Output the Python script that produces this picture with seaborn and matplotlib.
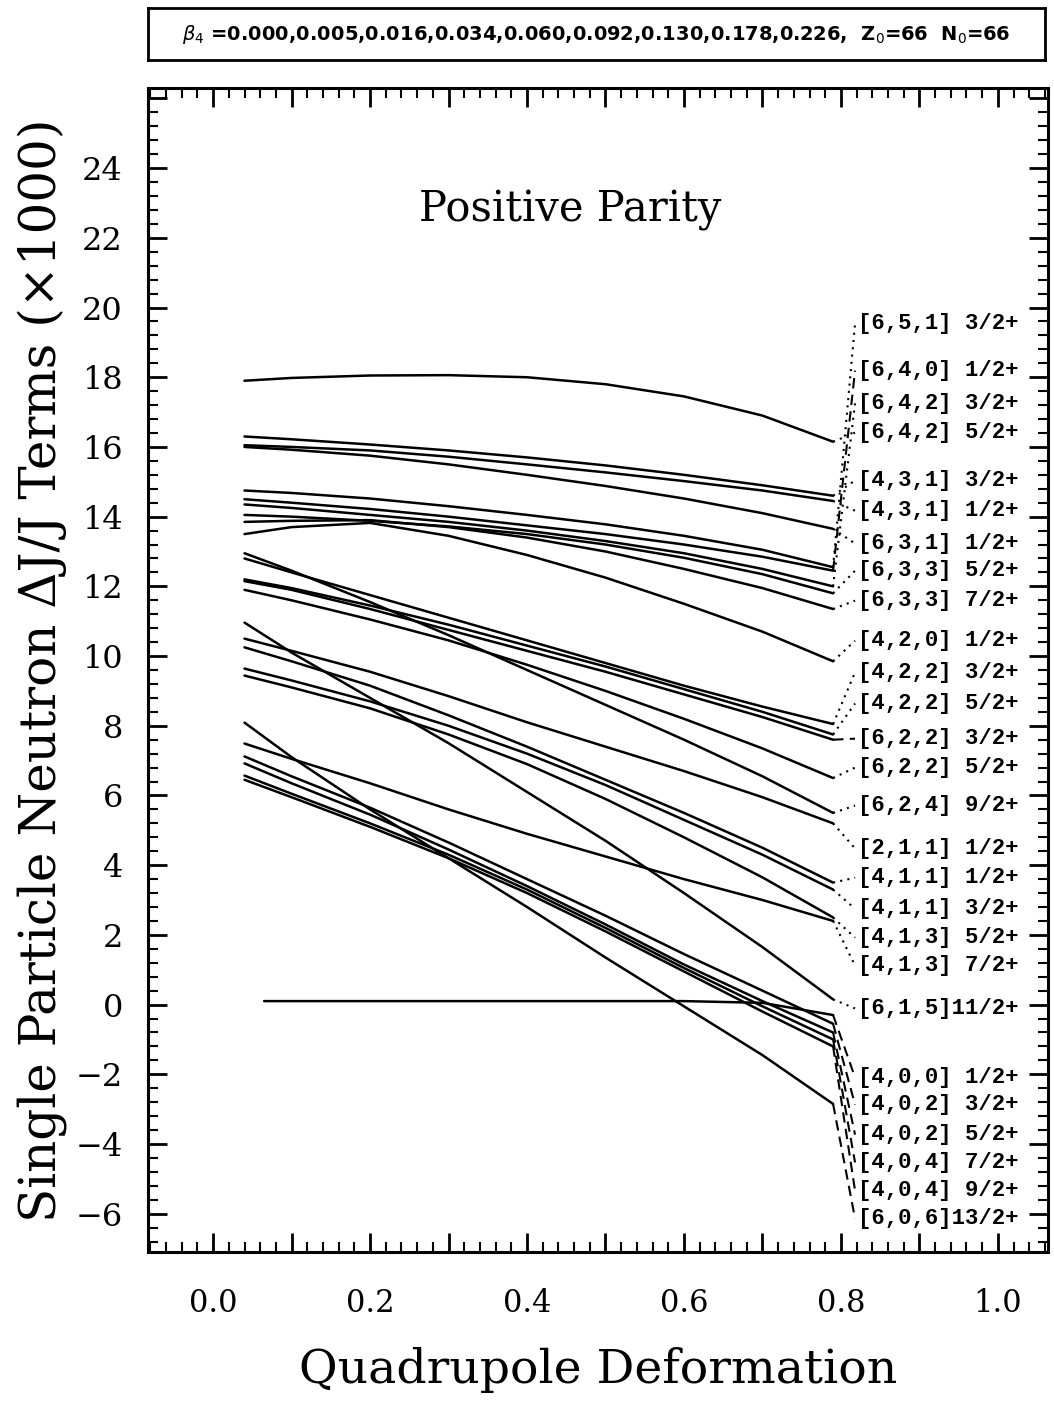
import pandas as pd
import matplotlib
matplotlib.use('Agg')
import matplotlib.pyplot as plt
from matplotlib.ticker import MultipleLocator, FuncFormatter
import seaborn as sns

x_grid = [0.04, 0.1, 0.2, 0.3, 0.4, 0.5, 0.6, 0.7, 0.79]
start_x = [0.04] * 21 + [0.065] + [0.04] * 5

# dJ/J (x1000) of each level at x_grid, in label order (top to bottom)
dj_values = [
    [14.75, 14.68, 14.52, 14.3, 14.05, 13.78, 13.45, 13.05, 12.55],
    [14.5, 14.4, 14.22, 14.0, 13.75, 13.5, 13.2, 12.85, 12.45],
    [14.35, 14.25, 14.05, 13.85, 13.6, 13.3, 12.95, 12.5, 12.0],
    [17.9, 17.98, 18.05, 18.06, 18.0, 17.8, 17.45, 16.9, 16.15],
    [16.3, 16.22, 16.07, 15.9, 15.7, 15.47, 15.2, 14.9, 14.6],
    [16.05, 16.0, 15.9, 15.72, 15.5, 15.27, 15.02, 14.75, 14.45],
    [16.0, 15.92, 15.75, 15.5, 15.2, 14.88, 14.52, 14.1, 13.65],
    [14.05, 14.0, 13.88, 13.72, 13.5, 13.2, 12.82, 12.35, 11.8],
    [13.85, 13.88, 13.9, 13.7, 13.4, 13.0, 12.5, 11.95, 11.35],
    [13.5, 13.7, 13.82, 13.45, 12.9, 12.25, 11.5, 10.7, 9.85],
    [12.8, 12.4, 11.75, 11.1, 10.45, 9.8, 9.15, 8.55, 8.05],
    [12.2, 11.95, 11.45, 10.9, 10.3, 9.7, 9.05, 8.4, 7.75],
    [12.15, 11.9, 11.35, 10.75, 10.15, 9.55, 8.9, 8.25, 7.6],
    [11.9, 11.6, 11.05, 10.45, 9.75, 9.0, 8.2, 7.35, 6.5],
    [12.95, 12.45, 11.55, 10.6, 9.6, 8.6, 7.6, 6.55, 5.5],
    [10.5, 10.15, 9.55, 8.85, 8.1, 7.4, 6.7, 5.95, 5.2],
    [10.25, 9.85, 9.15, 8.3, 7.4, 6.45, 5.5, 4.5, 3.5],
    [9.64, 9.3, 8.7, 8.0, 7.2, 6.3, 5.3, 4.3, 3.3],
    [9.44, 9.1, 8.5, 7.75, 6.9, 5.9, 4.8, 3.65, 2.5],
    [7.49, 7.05, 6.35, 5.6, 4.9, 4.25, 3.6, 3.0, 2.4],
    [10.96, 10.1, 8.8, 7.5, 6.1, 4.7, 3.2, 1.65, 0.15],
    [0.1, 0.1, 0.1, 0.1, 0.1, 0.1, 0.1, 0.05, -0.3],
    [7.12, 6.55, 5.65, 4.65, 3.6, 2.55, 1.45, 0.4, -0.55],
    [6.92, 6.35, 5.45, 4.45, 3.4, 2.3, 1.15, 0.1, -0.8],
    [6.57, 6.05, 5.2, 4.3, 3.3, 2.2, 1.05, -0.05, -1.0],
    [6.45, 5.95, 5.1, 4.2, 3.2, 2.1, 0.95, -0.2, -1.2],
    [8.09, 7.1, 5.6, 4.2, 2.8, 1.35, -0.05, -1.45, -2.85],
]

level_labels = [
    '[6,5,1] 3/2+', '[6,4,0] 1/2+', '[6,4,2] 3/2+', '[6,4,2] 5/2+',
    '[4,3,1] 3/2+', '[4,3,1] 1/2+', '[6,3,1] 1/2+', '[6,3,3] 5/2+',
    '[6,3,3] 7/2+', '[4,2,0] 1/2+', '[4,2,2] 3/2+', '[4,2,2] 5/2+',
    '[6,2,2] 3/2+', '[6,2,2] 5/2+', '[6,2,4] 9/2+', '[2,1,1] 1/2+',
    '[4,1,1] 1/2+', '[4,1,1] 3/2+', '[4,1,3] 5/2+', '[4,1,3] 7/2+',
    '[6,1,5]11/2+', '[4,0,0] 1/2+', '[4,0,2] 3/2+', '[4,0,2] 5/2+',
    '[4,0,4] 7/2+', '[4,0,4] 9/2+', '[6,0,6]13/2+',
]
label_y = [19.54, 18.19, 17.25, 16.41, 15.04, 14.17, 13.23, 12.45, 11.59,
           10.44, 9.53, 8.64, 7.63, 6.80, 5.71, 4.48, 3.64, 2.75, 1.92, 1.12,
           -0.11, -2.09, -2.87, -3.73, -4.53, -5.34, -6.14]

beta4 = '0.000,0.005,0.016,0.034,0.060,0.092,0.130,0.178,0.226'

# long-form table for seaborn
rows = []
for i, vals in enumerate(dj_values):
    xs = [start_x[i]] + x_grid[1:]
    for xv, yv in zip(xs, vals):
        rows.append({'level': i, 'x': xv, 'y': yv})
df = pd.DataFrame(rows)

sns.set_theme(style='white')
plt.rcParams['font.family'] = ['DejaVu Serif']
plt.rcParams['text.color'] = 'black'
plt.rcParams['axes.labelcolor'] = 'black'

fig = plt.figure(figsize=(10.54, 14.03), dpi=100)
ax = fig.add_axes([0.1404, 0.1076, 0.854, 0.8297])

sns.lineplot(data=df, x='x', y='y', units='level', estimator=None,
             color='black', lw=1.8, sort=False, ax=ax, legend=False)

# connectors from level ends to labels
dot = (0, (1, 2.5))
dash = (0, (5, 3))
conn_styles = [dot, dash, dot, dot, dot, dot, dot, dot, dot,
               dot, dot, dot, dash, dot, dot, dot, dot, dot, dot, dot,
               dot, dash, dash, dash, dash, dash, dash]
for i, vals in enumerate(dj_values):
    ax.plot([x_grid[-1], 0.818], [vals[-1], label_y[i]], color='black',
            lw=1.5, linestyle=conn_styles[i])
    ax.text(0.822, label_y[i], level_labels[i], fontsize=16,
            family='Liberation Mono', fontweight='bold',
            va='center', ha='left')

ax.text(0.455, 22.8, 'Positive Parity', fontsize=30, ha='center', va='center')

ax.set_xlim(-0.083, 1.064)
ax.set_ylim(-7.1, 26.3)
ax.xaxis.set_major_locator(MultipleLocator(0.1))
ax.xaxis.set_minor_locator(MultipleLocator(0.02))
ax.xaxis.set_major_formatter(FuncFormatter(
    lambda v, p: f'{v:.1f}' if round(v * 10) % 2 == 0 and v > -0.05 else ''))
ax.yaxis.set_major_locator(MultipleLocator(2))
ax.yaxis.set_minor_locator(MultipleLocator(0.4))
ax.yaxis.set_major_formatter(FuncFormatter(
    lambda v, p: f'{v:.0f}'.replace('-', '\u2212') if -7 < v <= 24 else ''))
ax.tick_params(which='both', direction='in', top=True, right=True,
               bottom=True, left=True, colors='black')
ax.tick_params(which='major', length=14, width=2)
ax.tick_params(which='minor', length=7, width=1.5)
ax.tick_params(axis='x', which='major', pad=26, labelsize=22)
ax.tick_params(axis='y', which='major', pad=18, labelsize=23)
for s in ax.spines.values():
    s.set_linewidth(2.2)
    s.set_color('black')

ax.set_xlabel('Quadrupole Deformation', fontsize=34, labelpad=20)
ax.set_ylabel('Single Particle Neutron \u0394J/J Terms (\u00d71000)',
              fontsize=36, labelpad=6)

# header box
hax = fig.add_axes([0.1404, 0.957, 0.851, 0.037])
hax.set_xticks([])
hax.set_yticks([])
for s in hax.spines.values():
    s.set_linewidth(2)
    s.set_color('black')
hax.text(0.5, 0.5, r'$\beta_4$ =' + beta4 + ',  Z$_0$=66  N$_0$=66',
         fontsize=14, fontweight='bold', family='DejaVu Sans',
         ha='center', va='center', transform=hax.transAxes)

fig.savefig('out.png', dpi=100)
